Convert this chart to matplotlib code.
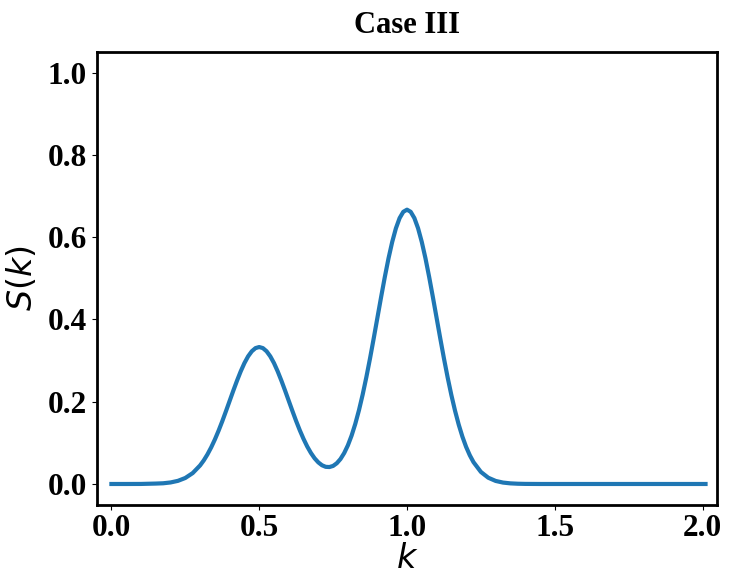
import matplotlib.pyplot as plt

# values
k = [0.0, 0.05, 0.1, 0.15, 0.175, 0.2, 0.225, 0.25, 0.275,
     0.3, 0.3125, 0.325, 0.3375, 0.35, 0.3625, 0.375, 0.3875, 0.4, 0.4125,
     0.425, 0.4375, 0.45, 0.4625, 0.475, 0.4875, 0.5, 0.5125, 0.525, 0.5375,
     0.55, 0.5625, 0.575, 0.5875, 0.6, 0.6125, 0.625, 0.6375, 0.65, 0.6625,
     0.675, 0.6875, 0.7, 0.7125, 0.725, 0.7375, 0.75, 0.7625, 0.775, 0.7875,
     0.8, 0.8125, 0.825, 0.8375, 0.85, 0.8625, 0.875, 0.8875, 0.9, 0.9125,
     0.925, 0.9375, 0.95, 0.9625, 0.975, 0.9875, 1.0, 1.0125, 1.025, 1.0375,
     1.05, 1.0625, 1.075, 1.0875, 1.1, 1.1125, 1.125, 1.1375, 1.15, 1.1625,
     1.175, 1.1875, 1.2, 1.2125, 1.225,
     1.25, 1.275, 1.3, 1.325, 1.35, 1.375, 1.4, 1.45, 1.5, 1.75, 2.01]
S = [0.0, 0.0, 0.0001, 0.001, 0.0017, 0.0037, 0.0076, 0.0146, 0.0265,
     0.0451, 0.0574, 0.072, 0.0889, 0.1081, 0.1294, 0.1524, 0.1769, 0.202, 0.2271,
     0.2513, 0.2739, 0.2939, 0.3104, 0.3227, 0.3304, 0.333, 0.3304, 0.3227, 0.3104,
     0.294, 0.2739, 0.2514, 0.2272, 0.2022, 0.1773, 0.153, 0.1303, 0.1096, 0.0911,
     0.0754, 0.0624, 0.0525, 0.0455, 0.0417, 0.0412, 0.0439, 0.0504, 0.0607, 0.0751,
     0.0939, 0.1175, 0.146, 0.1793, 0.2173, 0.2597, 0.3056, 0.3544, 0.4046, 0.4548,
     0.5034, 0.5487, 0.5886, 0.6217, 0.6465, 0.6618, 0.667, 0.6618, 0.6465, 0.6217,
     0.5886, 0.5487, 0.5034, 0.4548, 0.4045, 0.3542, 0.3053, 0.2592, 0.2166, 0.1782,
     0.1443, 0.115, 0.0902, 0.0698, 0.0531,
     0.0293, 0.0152, 0.0074, 0.0034, 0.0015, 0.0006, 0.0002, 0.0, 0.0, 0.0, 0.0]
x_ticks = [0.0, 0.5, 1.0, 1.5, 2.0]
y_ticks = [0.0, 0.2, 0.4, 0.6, 0.8, 1.0]

plt.rcParams['font.family'] = ['Liberation Serif', 'DejaVu Serif']

fig = plt.figure(figsize=(7.32, 5.86), dpi=100)
ax = fig.add_axes([0.132, 0.139, 0.848, 0.772])

ax.plot(k, S, color='#1f77b4', lw=3.0)

ax.set_xlim(-0.05, 2.05)
ax.set_ylim(-0.05, 1.05)
ax.set_xticks(x_ticks)
ax.set_yticks(y_ticks)
ax.set_xticklabels([f"{t:.1f}" for t in x_ticks], fontsize=22.5, fontweight='bold')
ax.set_yticklabels([f"{t:.1f}" for t in y_ticks], fontsize=22.5, fontweight='bold')

ax.set_xlabel(r"$k$", fontsize=24, labelpad=1)
ax.set_ylabel(r"$S(k)$", fontsize=24, labelpad=6)
ax.set_title("Case III", fontsize=22, fontweight='bold', pad=14)

for sp in ax.spines.values():
    sp.set_linewidth(2.0)

fig.savefig("out.png", dpi=100)
